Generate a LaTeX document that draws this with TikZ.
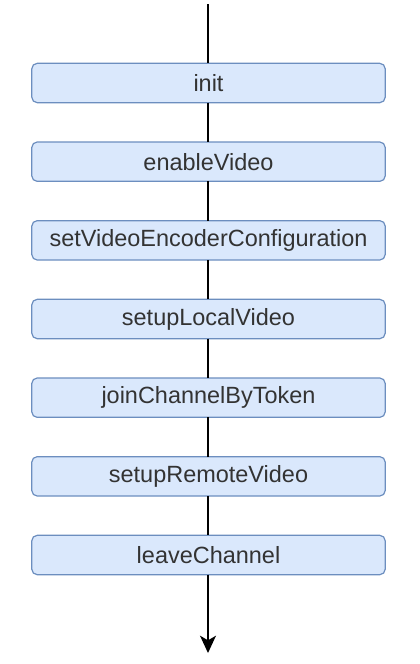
\documentclass[tikz,border=0pt]{standalone}
\usepackage{fontspec}
\setmainfont{Liberation Sans}
\usetikzlibrary{positioning,arrows.meta}
\definecolor{callfill}{HTML}{DAE8FC}
\definecolor{calldraw}{HTML}{6C8EBF}
\definecolor{calltext}{HTML}{333333}
\tikzset{
  call/.style={draw=calldraw, fill=callfill, rounded corners=4pt, line width=0.9pt,
    minimum width=265pt, minimum height=29.5pt, inner sep=0pt, outer sep=0pt,
    text=calltext, font=\fontsize{17.6}{21}\selectfont},
  flow/.style={line width=1pt, black}
}
\begin{document}
\begin{tikzpicture}[x=0.75pt,y=-0.75pt]
     \useasboundingbox (0,0) rectangle (420,664);
     \coordinate (start) at (208,4);
     \node[call] (init) at (208.5,83) {init};
     \node[call, below=29.5pt of init] (enable) {enableVideo};
     \node[call, below=29.5pt of enable] (config) {setVideoEncoderConfiguration};
     \node[call, below=29.5pt of config] (local) {setupLocalVideo};
     \node[call, below=29.5pt of local] (join) {joinChannelByToken};
     \node[call, below=29.5pt of join] (remote) {setupRemoteVideo};
     \node[call, below=29.5pt of remote] (leave) {leaveChannel};
     \coordinate (stop) at (208,653);
%	now the line through the calls:
     \draw[flow] (start) -- (start |- init.north);
     \draw[flow] (start |- init.south) -- (start |- enable.north);
     \draw[flow] (start |- enable.south) -- (start |- config.north);
     \draw[flow] (start |- config.south) -- (start |- local.north);
     \draw[flow] (start |- local.south) -- (start |- join.north);
     \draw[flow] (start |- join.south) -- (start |- remote.north);
     \draw[flow] (start |- remote.south) -- (start |- leave.north);
     \draw[flow, -{Stealth[length=13pt, width=12pt, inset=3.5pt]}] (start |- leave.south) -- (stop);
    \end{tikzpicture}
\end{document}
